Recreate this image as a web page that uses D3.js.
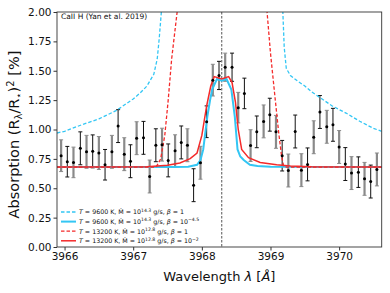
<!DOCTYPE html>
<html><head><meta charset="utf-8">
<script src="https://cdn.jsdelivr.net/npm/d3@7"></script>
<style>body{margin:0;background:#fff}svg{display:block;font-family:"DejaVu Sans",sans-serif}</style>
</head><body><svg id="c" width="390" height="293"></svg>
<script>
// ---- data ----
const obsWave = [3965.95,3966.04,3966.13,3966.23,3966.32,3966.41,3966.50,3966.59,3966.69,3966.78,3966.87,3966.96,3967.05,3967.15,3967.24,3967.33,3967.42,3967.51,3967.61,3967.70,3967.79,3967.88,3967.98,3968.07,3968.16,3968.25,3968.34,3968.44,3968.53,3968.62,3968.71,3968.80,3968.90,3968.99,3969.08,3969.17,3969.26,3969.36,3969.45,3969.54,3969.63,3969.72,3969.82,3969.91,3970.00,3970.09,3970.18,3970.28,3970.37,3970.46,3970.55];
const obsAbs = [0.777,0.726,0.72,0.84,0.81,0.814,0.80,0.70,0.81,1.029,0.79,0.73,0.926,0.929,0.60,0.866,0.871,0.737,0.82,0.89,0.866,0.526,0.717,1.066,1.42,1.46,1.53,1.53,1.186,1.307,0.863,0.98,1.069,1.126,0.98,0.777,0.651,0.983,0.654,0.703,0.934,1.149,1.023,1.04,0.851,0.706,0.629,0.637,0.58,0.557,0.66];
const obsErr = [0.135,0.13,0.13,0.14,0.14,0.14,0.14,0.13,0.14,0.14,0.14,0.14,0.14,0.14,0.14,0.14,0.14,0.14,0.135,0.14,0.14,0.14,0.14,0.135,0.135,0.12,0.12,0.12,0.13,0.13,0.135,0.135,0.14,0.14,0.14,0.13,0.14,0.14,0.14,0.14,0.14,0.14,0.14,0.14,0.14,0.14,0.14,0.13,0.14,0.14,0.14];

const m1Wave = [3965.89,3966.0,3966.25,3966.5,3966.75,3967.0,3967.1,3967.2,3967.3,3967.35,3967.38,3967.41,3967.43];
const m1Abs  = [0.97,0.985,1.04,1.09,1.16,1.26,1.31,1.37,1.47,1.6,1.78,2.0,2.2];
const m1WaveR = [3969.15,3969.18,3969.20,3969.23,3969.29,3969.40,3969.50,3969.60,3969.70,3969.90,3970.10,3970.30,3970.50,3970.62];
const m1AbsR  = [2.2,2.0,1.7,1.52,1.46,1.41,1.37,1.32,1.28,1.2,1.14,1.07,1.01,0.985];

const m2Wave = [3965.89,3967.6,3967.8,3967.93,3967.98,3968.02,3968.08,3968.12,3968.15,3968.22,3968.29,3968.36,3968.43,3968.48,3968.52,3968.56,3968.61,3968.70,3968.81,3969.0,3970.62];
const m2Abs  = [0.68,0.68,0.683,0.70,0.74,0.83,1.11,1.25,1.34,1.43,1.415,1.43,1.34,1.11,0.83,0.77,0.74,0.70,0.69,0.682,0.68];

const m3Wave = [3965.89,3967.30,3967.34,3967.40,3967.46,3967.51,3967.56,3967.64,3967.68];
const m3Abs  = [0.68,0.68,0.686,0.75,0.95,1.25,1.6,2.0,2.3];
const m3WaveR = [3968.90,3968.95,3969.00,3969.07,3969.12,3969.16,3969.19,3969.23,3970.62];
const m3AbsR  = [2.3,2.0,1.65,1.25,0.97,0.78,0.69,0.68,0.68];

const m4Wave = [3965.89,3967.2,3967.5,3967.68,3967.83,3967.93,3968.00,3968.07,3968.13,3968.18,3968.29,3968.39,3968.44,3968.49,3968.53,3968.58,3968.68,3968.85,3969.09,3969.29,3969.6,3970.62];
const m4Abs  = [0.68,0.683,0.695,0.715,0.752,0.80,0.95,1.2,1.37,1.45,1.43,1.45,1.40,1.23,1.0,0.83,0.76,0.72,0.70,0.69,0.682,0.68];

const lineCenter = 3968.29;
const xTicks = [3966,3967,3968,3969,3970];
const yTicks = [0,0.25,0.5,0.75,1.0,1.25,1.5,1.75,2.0];
const legendLabels = [
  {T:"9600 ", M:"14.3", b:"1"},
  {T:"9600 ", M:"14.3", b:"10", bexp:"−4.5"},
  {T:"13200", M:"12.8", b:"1"},
  {T:"13200", M:"12.8", b:"10", bexp:"−2"}
];

// ---- layout ----
const L=57, R=381.7, T=12, B=247;
const svg = d3.select("#c");
const x = d3.scaleLinear().domain([3965.89,3970.62]).range([L,R]);
const y = d3.scaleLinear().domain([0,2]).range([B,T]);
const cyan="#33c6f4", red="#f42a2a";

svg.append("clipPath").attr("id","clip").append("rect").attr("x",L).attr("y",T).attr("width",R-L).attr("height",B-T);
const g = svg.append("g").attr("clip-path","url(#clip)");

g.append("line").attr("x1",x(lineCenter)).attr("x2",x(lineCenter)).attr("y1",T).attr("y2",B)
 .attr("stroke","#555").attr("stroke-width",1).attr("stroke-dasharray","2.5,1.5");

const line = d3.line().x(d=>x(d[0])).y(d=>y(d[1]));
const zip=(a,b)=>a.map((v,i)=>[v,b[i]]);

obsWave.forEach((w,i)=>{
  const grey = i%2===0;
  const col = grey?"#8a8a8a":"#111";
  const sw = grey?2.2:1;
  const xx=x(w), y0=y(obsAbs[i]-obsErr[i]), y1=y(obsAbs[i]+obsErr[i]);
  g.append("line").attr("x1",xx).attr("x2",xx).attr("y1",y0).attr("y2",y1).attr("stroke",col).attr("stroke-width",sw);
  [y0,y1].forEach(yy=>g.append("line").attr("x1",xx-2).attr("x2",xx+2).attr("y1",yy).attr("y2",yy).attr("stroke",col).attr("stroke-width",1));
});

g.append("path").attr("d",line(zip(m1Wave,m1Abs))).attr("fill","none").attr("stroke",cyan).attr("stroke-width",1.3).attr("stroke-dasharray","3.5,2");
g.append("path").attr("d",line(zip(m1WaveR,m1AbsR))).attr("fill","none").attr("stroke",cyan).attr("stroke-width",1.3).attr("stroke-dasharray","3.5,2");
g.append("path").attr("d",line(zip(m2Wave,m2Abs))).attr("fill","none").attr("stroke",cyan).attr("stroke-width",2);
g.append("path").attr("d",line(zip(m3Wave,m3Abs))).attr("fill","none").attr("stroke",red).attr("stroke-width",1.3).attr("stroke-dasharray","3.5,2");
g.append("path").attr("d",line(zip(m3WaveR,m3AbsR))).attr("fill","none").attr("stroke",red).attr("stroke-width",1.3).attr("stroke-dasharray","3.5,2");
g.append("path").attr("d",line(zip(m4Wave,m4Abs))).attr("fill","none").attr("stroke",red).attr("stroke-width",1.5);

g.selectAll("circle.pt").data(obsWave).enter().append("circle").attr("cx",d=>x(d)).attr("cy",(d,i)=>y(obsAbs[i])).attr("r",1.5).attr("fill","#000");

svg.append("rect").attr("x",L).attr("y",T).attr("width",R-L).attr("height",B-T).attr("fill","none").attr("stroke","#333").attr("stroke-width",0.9);

const xa = svg.append("g").attr("transform",`translate(0,${B})`).call(d3.axisBottom(x).tickValues(xTicks).tickFormat(d3.format("d")).tickSize(3.5).tickPadding(2));
const ya = svg.append("g").attr("transform",`translate(${L},0)`).call(d3.axisLeft(y).tickValues(yTicks).tickFormat(d3.format(".2f")).tickSize(3.5).tickPadding(2));
[xa,ya].forEach(a=>{a.select(".domain").remove(); a.selectAll("text").attr("font-size",10.5).attr("fill","#111").attr("font-family","DejaVu Sans"); a.selectAll("line").attr("stroke","#333");});

const xl = svg.append("text").attr("x",(L+R)/2).attr("y",281).attr("text-anchor","middle").attr("font-size",13).attr("fill","#111");
xl.append("tspan").text("Wavelength ");
xl.append("tspan").attr("font-style","italic").text("λ");
xl.append("tspan").text(" [");
xl.append("tspan").attr("font-style","italic").text("Å");
xl.append("tspan").text("]");

const yl = svg.append("text").attr("transform",`translate(19,${(T+B)/2+5}) rotate(-90)`).attr("text-anchor","middle").attr("font-size",14.5).attr("fill","#111");
yl.append("tspan").text("Absorption (R");
yl.append("tspan").attr("font-size",10).attr("dy",3).text("λ");
yl.append("tspan").attr("dy",-3).text("/R");
yl.append("tspan").attr("font-size",10).attr("dy",3).text("⋆");
yl.append("tspan").attr("dy",-3).text(")");
yl.append("tspan").attr("font-size",10).attr("dy",-5.5).text("2");
yl.append("tspan").attr("dy",5.5).text(" [%]");

svg.append("text").attr("x",61).attr("y",19).attr("font-size",7.5).attr("fill","#111").text("CaII H (Yan et al. 2019)");

const legStyles=[{c:cyan,d:"3.5,2",w:1.3},{c:cyan,d:null,w:2},{c:red,d:"3.5,2",w:1.3},{c:red,d:null,w:1.5}];
legendLabels.forEach((e,i)=>{
  const yy = 212 + i*9.6;
  const s=legStyles[i];
  const ln = svg.append("line").attr("x1",61).attr("x2",76).attr("y1",yy).attr("y2",yy).attr("stroke",s.c).attr("stroke-width",s.w);
  if(s.d) ln.attr("stroke-dasharray",s.d);
  const t = svg.append("text").attr("x",79).attr("y",yy+2.3).attr("font-size",6.3).attr("fill","#111");
  t.append("tspan").attr("font-style","italic").text("T");
  t.append("tspan").text(" = "+e.T+"  K, Ṁ = 10");
  t.append("tspan").attr("font-size",4.6).attr("dy",-2.6).text(e.M);
  t.append("tspan").attr("dy",2.6).text(" g/s, ");
  t.append("tspan").attr("font-style","italic").text("β");
  t.append("tspan").text(" = "+e.b);
  if(e.bexp) t.append("tspan").attr("font-size",4.6).attr("dy",-2.6).text(e.bexp);
});
</script></body></html>
